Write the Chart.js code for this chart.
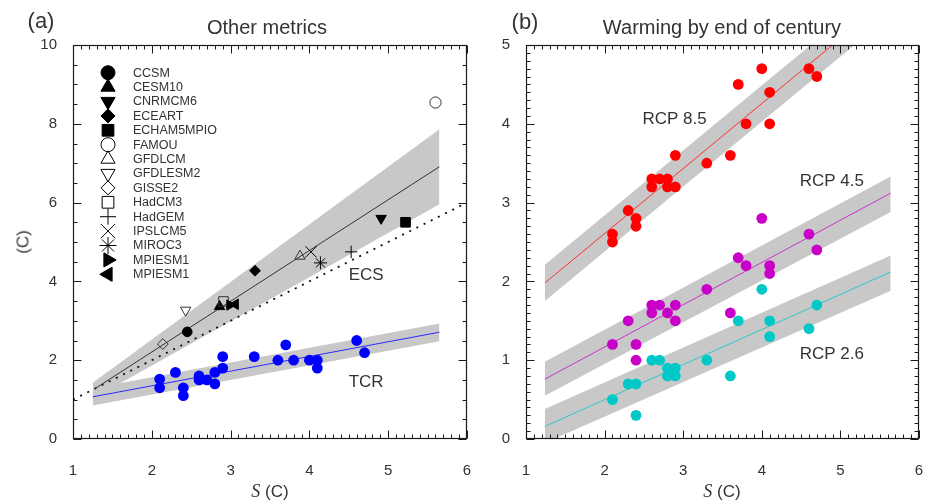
<!DOCTYPE html>
<html>
<head>
<meta charset="utf-8">
<script src="https://cdn.jsdelivr.net/npm/chart.js@4.4.1/dist/chart.umd.min.js"></script>
<style>
  body { margin:0; background:#fff; width:928px; height:504px; position:relative; overflow:hidden;
         font-family:'Liberation Sans', Arial, sans-serif; color:#333; }
  canvas { position:absolute; top:0; }
  #left { left:0; }
  #right { left:480px; }
  .t { position:absolute; transform:translate(-50%,-50%); white-space:nowrap; line-height:1; }
  .s { font-family:'Liberation Serif','DejaVu Serif',serif; font-style:italic; font-size:18px; }
</style>
</head>
<body>
<canvas id="left" width="480" height="504"></canvas>
<canvas id="right" width="448" height="504"></canvas>

<div class="t" style="left:41px;top:21px;font-size:22px">(a)</div>
<div class="t" style="left:267px;top:27px;font-size:20px">Other metrics</div>
<div class="t" style="left:525px;top:22px;font-size:22px">(b)</div>
<div class="t" style="left:722px;top:27px;font-size:20px">Warming by end of century</div>
<div class="t" style="left:23px;top:242px;font-size:17px;transform:translate(-50%,-50%) rotate(-90deg)">(C)</div>
<div class="t" style="left:270px;top:491px;font-size:17px"><span class="s">S</span> (C)</div>
<div class="t" style="left:722px;top:491px;font-size:17px"><span class="s">S</span> (C)</div>

<script>
// ---------- DATA: panel (a) ----------
const models   = ['CCSM', 'CESM10', 'CNRMCM6', 'ECEART', 'ECHAM5MPIO', 'FAMOU', 'GFDLCM', 'GFDLESM2',
                  'GISSE2', 'HadCM3', 'HadGEM', 'IPSLCM5', 'MIROC3', 'MPIESM1', 'MPIESM1'];
const modelS   = [2.45, 2.86, 4.91, 3.31, 5.22, 5.60, 3.88, 2.43, 2.14, 2.91, 4.53, 4.02, 4.14, 2.99, 3.06];
const modelECS = [2.72, 3.36, 5.60, 4.27, 5.50, 8.54, 4.64, 3.27, 2.41, 3.49, 4.75, 4.75, 4.47, 3.40, 3.42];

const tcrS   = [2.1, 2.1, 2.3, 2.4, 2.4, 2.6, 2.6, 2.7, 2.8, 2.8, 2.9, 2.9, 3.3, 3.6, 3.7, 3.8, 4.0, 4.1, 4.1, 4.6, 4.7];
const tcrVal = [1.52, 1.30, 1.69, 1.30, 1.10, 1.60, 1.50, 1.50, 1.69, 1.40, 2.09, 1.80, 2.09, 2.00, 2.39, 2.00, 2.00, 2.00, 1.80, 2.50, 2.19];

const bandXa = [1.25, 5.65];
const ecsFitX = [1.28, 5.65];
const ecsFit = [1.28, 6.91];
const ecsHi  = [1.43, 7.86];
const ecsLo  = [1.02, 5.96];
const tcrFit = [1.07, 2.71];
const tcrHi  = [1.29, 2.93];
const tcrLo  = [0.85, 2.48];
const oneX = [1, 6];
const oneY = [1, 6];

// ---------- DATA: panel (b) ----------
const r85S = [2.1, 2.1, 2.3, 2.4, 2.4, 2.6, 2.6, 2.7, 2.8, 2.8, 2.9, 2.9, 3.3, 3.6, 3.7, 3.8, 4.0, 4.1, 4.1, 4.6, 4.7];
const r85  = [2.6, 2.5, 2.9, 2.8, 2.7, 3.3, 3.2, 3.3, 3.3, 3.2, 3.6, 3.2, 3.5, 3.6, 4.5, 4.0, 4.7, 4.4, 4.0, 4.7, 4.6];
const r45S = [2.1, 2.3, 2.4, 2.4, 2.6, 2.6, 2.7, 2.8, 2.9, 2.9, 3.3, 3.6, 3.7, 3.8, 4.0, 4.1, 4.1, 4.6, 4.7];
const r45  = [1.2, 1.5, 1.2, 1.0, 1.7, 1.6, 1.7, 1.6, 1.7, 1.5, 1.9, 1.6, 2.3, 2.2, 2.8, 2.2, 2.1, 2.6, 2.4];
const r26S = [2.1, 2.3, 2.4, 2.4, 2.6, 2.7, 2.8, 2.8, 2.9, 2.9, 3.3, 3.6, 3.7, 4.0, 4.1, 4.1, 4.6, 4.7];
const r26  = [0.5, 0.7, 0.7, 0.3, 1.0, 1.0, 0.9, 0.8, 0.9, 0.8, 1.0, 0.8, 1.5, 1.9, 1.5, 1.3, 1.4, 1.7];

const bandXb = [1.24, 5.64];
const r85Fit = [1.98, 5.61], r85Hi = [2.21, 5.84], r85Lo = [1.75, 5.38];
const r45Fit = [0.76, 3.12], r45Hi = [0.98, 3.33], r45Lo = [0.55, 2.88];
const r26Fit = [0.16, 2.12], r26Hi = [0.38, 2.33], r26Lo = [-0.05, 1.88];

// ---------- STYLE ----------
const FONT = "'Liberation Sans', Arial, sans-serif";
const TXT = '#333';
const BAND = '#c8c8c8';
// one entry per model above (same order)
const mStyle = ['circle', 'triangle', 'triangle', 'rectRot', 'rect', 'circle', 'triangle', 'triangle',
                'rectRot', 'rect', 'cross', 'crossRot', 'star', 'triangle', 'triangle'];
const mRot   = [0, 0, 180, 0, 0, 0, 0, 180, 0, 0, 0, 0, 0, 90, -90];
const mFill  = [1, 1, 1, 1, 1, 0, 0, 0, 0, 0, 1, 1, 1, 1, 1];
const plotR   = { circle: 4.8, triangle: 6, rect: 6.8, rectRot: 5.4, cross: 6.2, crossRot: 7.8, star: 6.5 };
const legendR = { circle: 7, triangle: 8.2, rect: 8.3, rectRot: 7, cross: 8, crossRot: 10, star: 8.5 };

const pts = (xs, ys) => xs.map((x, i) => ({ x, y: ys[i] }));

function band(xs, hi, lo) {
  return [
    { data: pts(xs, hi), borderWidth: 0, borderColor: 'rgba(0,0,0,0)', pointRadius: 0, fill: '+1', backgroundColor: BAND, order: 10 },
    { data: pts(xs, lo), borderWidth: 0, borderColor: 'rgba(0,0,0,0)', pointRadius: 0, fill: false, order: 10 }
  ];
}
const line = (xs, ys, color, extra) => Object.assign(
  { data: pts(xs, ys), borderColor: color, borderWidth: 1, pointRadius: 0, fill: false, order: 5 }, extra || {});
const dots = (xs, ys, color) => ({
  data: pts(xs, ys), showLine: false, pointRadius: 5.4, pointBackgroundColor: color,
  pointBorderWidth: 0, pointBorderColor: color, order: 1
});

// ---------- PLUGINS ----------
function marks(min, max, step) {
  const out = [], n = Math.round((max - min) / step);
  for (let i = 0; i <= n; i++) out.push(min + i * step);
  return out;
}
const isMajor = (v, step) => Math.abs(v / step - Math.round(v / step)) < 1e-6;

// box round the plot with inward ticks on all four sides
const frame = {
  id: 'frame',
  afterDraw(chart, _a, o) {
    const { ctx, chartArea: a } = chart;
    const xs = chart.scales.x, ys = chart.scales.y;
    const L = Math.round(a.left) + 0.5, R = Math.round(a.right) - 0.5;
    const T = Math.round(a.top) + 0.5, B = Math.round(a.bottom) - 0.5;
    ctx.save();
    ctx.strokeStyle = '#1a1a1a';
    ctx.lineWidth = 1.2;
    ctx.strokeRect(L, T, R - L, B - T);
    ctx.beginPath();
    marks(xs.min, xs.max, o.xMinor).forEach(v => {
      const len = isMajor(v, o.xMajor) ? 8 : 4;
      const p = Math.round(xs.getPixelForValue(v)) + 0.5;
      ctx.moveTo(p, B); ctx.lineTo(p, B - len);
      ctx.moveTo(p, T); ctx.lineTo(p, T + len);
    });
    marks(ys.min, ys.max, o.yMinor).forEach(v => {
      const len = isMajor(v, o.yMajor) ? 8 : 4;
      const p = Math.round(ys.getPixelForValue(v)) + 0.5;
      ctx.moveTo(L, p); ctx.lineTo(L + len, p);
      ctx.moveTo(R, p); ctx.lineTo(R - len, p);
    });
    ctx.lineWidth = 1;
    ctx.stroke();
    ctx.restore();
  }
};

const notes = {
  id: 'notes',
  afterDatasetsDraw(chart, _a, o) {
    const { ctx } = chart, { x, y } = chart.scales;
    ctx.save();
    ctx.font = '17px ' + FONT;
    ctx.fillStyle = TXT;
    ctx.textAlign = 'center';
    ctx.textBaseline = 'middle';
    o.text.forEach((t, i) => ctx.fillText(t, x.getPixelForValue(o.x[i]), y.getPixelForValue(o.y[i])));
    ctx.restore();
  }
};

const keyBox = {
  id: 'keyBox',
  afterDraw(chart) {
    const { ctx } = chart;
    const drawPoint = Chart.helpers && Chart.helpers.drawPoint;
    ctx.save();
    ctx.font = '12.5px ' + FONT;
    ctx.textBaseline = 'middle';
    models.forEach((m, i) => {
      const yy = 72.7 + i * 14.4;
      ctx.fillStyle = mFill[i] ? '#000' : 'rgba(0,0,0,0)';
      ctx.strokeStyle = '#000';
      ctx.lineWidth = 1;
      if (drawPoint) drawPoint(ctx, { pointStyle: mStyle[i], rotation: mRot[i], radius: legendR[mStyle[i]], borderWidth: 1 }, 108, yy);
      ctx.fillStyle = TXT;
      ctx.fillText(m, 133, yy + 0.5);
    });
    ctx.restore();
  }
};

function baseOptions(yMax, yStep, yWidth, padRight, fr, nt) {
  return {
    responsive: false,
    animation: false,
    events: [],
    layout: { padding: { left: 0, right: padRight, top: 45, bottom: 0 } },
    scales: {
      x: {
        type: 'linear', min: 1, max: 6,
        grid: { display: false }, border: { display: false },
        ticks: { stepSize: 1, autoSkip: false, maxRotation: 0, padding: 15, color: TXT, font: { family: FONT, size: 15 } },
        afterFit: s => { s.height = 65; s.paddingLeft = 0; s.paddingRight = 0; }
      },
      y: {
        min: 0, max: yMax,
        grid: { display: false }, border: { display: false },
        ticks: { stepSize: yStep, padding: 8, color: TXT, font: { family: FONT, size: 15 } },
        afterFit: s => { s.width = yWidth; s.paddingTop = 0; s.paddingBottom = 0; }
      }
    },
    plugins: { legend: { display: false }, tooltip: { enabled: false }, frame: fr, notes: nt }
  };
}

// nudge the layout padding until the plot box sits where the reference has it
function pinArea(chart, want) {
  const p = chart.config.options.layout.padding;
  for (let k = 0; k < 4; k++) {
    const a = chart.chartArea;
    const dl = want.left - a.left, dr = a.right - want.right;
    const dt = want.top - a.top, db = a.bottom - want.bottom;
    if (Math.abs(dl) + Math.abs(dr) + Math.abs(dt) + Math.abs(db) < 0.5) break;
    p.left += dl; p.right += dr; p.top += dt; p.bottom += db;
    chart.update();
  }
}

// ---------- (a) Other metrics ----------
const chartA = new Chart(document.getElementById('left'), {
  type: 'line',
  data: {
    datasets: [
      ...band(bandXa, ecsHi, ecsLo),
      ...band(bandXa, tcrHi, tcrLo),
      line(oneX, oneY, '#111', { borderWidth: 1.8, borderDash: [2, 6], order: 6 }),
      line(ecsFitX, ecsFit, '#333'),
      line(bandXa, tcrFit, '#2a2aff'),
      dots(tcrS, tcrVal, '#0000ff'),
      {
        data: pts(modelS, modelECS), showLine: false, order: 0,
        pointStyle: mStyle, pointRotation: mRot,
        pointRadius: mStyle.map((s, i) => (s === 'circle' && !mFill[i]) ? 5.6 : plotR[s]),
        pointBackgroundColor: mFill.map(f => f ? '#000' : 'rgba(0,0,0,0)'),
        pointBorderColor: mFill.map(f => f ? '#000' : '#333'),
        pointBorderWidth: 1
      }
    ]
  },
  options: baseOptions(10, 2, 73, 13,
    { xMinor: 0.1, xMajor: 1, yMinor: 0.5, yMajor: 2 },
    { text: ['ECS', 'TCR'], x: [4.72, 4.72], y: [4.16, 1.45] }),
  plugins: [frame, notes, keyBox]
});
pinArea(chartA, { left: 73, right: 467, top: 45, bottom: 439 });

// ---------- (b) Warming by end of century ----------
const chartB = new Chart(document.getElementById('right'), {
  type: 'line',
  data: {
    datasets: [
      ...band(bandXb, r85Hi, r85Lo),
      ...band(bandXb, r45Hi, r45Lo),
      ...band(bandXb, r26Hi, r26Lo),
      line(bandXb, r85Fit, '#ff3030'),
      line(bandXb, r45Fit, '#cc33cc'),
      line(bandXb, r26Fit, '#30c8c8'),
      dots(r85S, r85, '#ff0000'),
      dots(r45S, r45, '#c800c8'),
      dots(r26S, r26, '#00c8c8')
    ]
  },
  options: baseOptions(5, 1, 46, 9,
    { xMinor: 0.1, xMajor: 1, yMinor: 0.1, yMajor: 1 },
    { text: ['RCP 8.5', 'RCP 4.5', 'RCP 2.6'], x: [2.89, 4.89, 4.89], y: [4.06, 3.27, 1.07] }),
  plugins: [frame, notes]
});
pinArea(chartB, { left: 46, right: 439, top: 45, bottom: 439 });
</script>
</body>
</html>
